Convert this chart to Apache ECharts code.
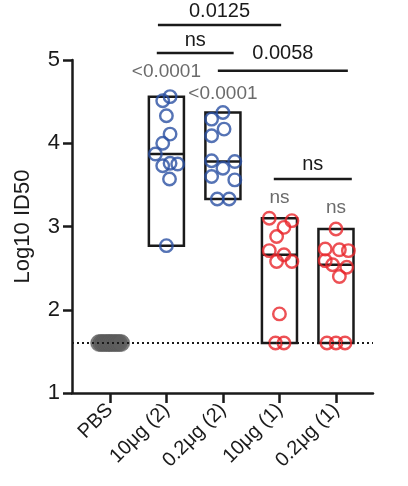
<!DOCTYPE html>
<html>
<head>
<meta charset="utf-8">
<script src="https://cdn.jsdelivr.net/npm/echarts@6/dist/echarts.min.js"></script>
<style>
html,body{margin:0;padding:0;background:#fff}
#grafico{width:408px;height:486px}
</style>
</head>
<body>
<div id="grafico"></div>
<script>
// grupos do eixo x
var grupos = ['PBS', '10μg (2)', '0.2μg (2)', '10μg (1)', '0.2μg (1)'];

// valores (Log10 ID50)
var valoresPBS    = [1.6, 1.6, 1.6, 1.6, 1.6, 1.6, 1.6, 1.6, 1.6, 1.6, 1.6];
var valores10ug2  = [4.56, 4.51, 4.33, 4.11, 4.00, 3.87, 3.76, 3.75, 3.73, 3.57, 2.77];
var valores02ug2  = [4.37, 4.29, 4.17, 4.09, 3.79, 3.78, 3.70, 3.60, 3.56, 3.33, 3.33];
var valores10ug1  = [3.10, 3.07, 2.99, 2.88, 2.71, 2.66, 2.58, 2.58, 1.95, 1.60, 1.60];
var valores02ug1  = [2.97, 2.73, 2.72, 2.71, 2.59, 2.54, 2.51, 2.40, 1.60, 1.60, 1.60];
var limiteDeteccao = 1.6;
var ticksY = [1, 2, 3, 4, 5];

// comparacoes (grupo inicial, grupo final, texto)
var compInicio = [0.85, 0.83, 1.91, 2.90];
var compFim    = [3.03, 2.19, 4.21, 4.28];
var compY      = [5.42, 5.085, 4.87, 3.57];
var compTextoY = [5.58, 5.23, 5.08, 3.75];
var compTexto  = ['0.0125', 'ns', '0.0058', 'ns'];

// p-valores vs PBS
var pGrupo = [1, 2, 3, 4];
var pTexto = ['<0.0001', '<0.0001', 'ns', 'ns'];
var pY     = [4.86, 4.60, 3.35, 3.23];

var todos = [valoresPBS, valores10ug2, valores02ug2, valores10ug1, valores02ug1];

// deslocamento horizontal dos pontos como na figura
var jitter = [
    [-0.19, -0.15, -0.11, -0.07, -0.03, 0, 0.04, 0.08, 0.12, 0.16, 0.2],
    [0.065, -0.065, 0, 0.065, -0.065, -0.195, 0.065, 0.2, -0.065, 0.055, 0],
    [0, -0.2, 0.02, -0.2, -0.2, 0.21, 0, -0.2, 0.21, -0.1, 0.11],
    [-0.18, 0.22, 0.08, -0.05, -0.18, 0.08, -0.05, 0.22, 0, -0.07, 0.08],
    [0, -0.19, 0.06, 0.22, -0.19, -0.06, 0.19, 0.06, -0.16, 0, 0.16]
];

var cores = ['#5e5e5e', '#2a50a3', '#2a50a3', '#e8262b', '#e8262b'];
var fonte = '"Liberation Sans", Arial, sans-serif';
var preto = '#1a1a1a';
var cinza = '#6b6b6b';

function mediana(arr){
    var s = arr.slice().sort(function(a, b){ return a - b; });
    var m = Math.floor(s.length / 2);
    return s.length % 2 ? s[m] : (s[m - 1] + s[m]) / 2;
}

// caixas min-max com mediana
var caixas = [];
for (var g = 1; g < todos.length; g++) {
    caixas.push([g, Math.min.apply(null, todos[g]), Math.max.apply(null, todos[g]), mediana(todos[g])]);
}

var series = [];

series.push({
    type: 'custom',
    z: 2,
    data: caixas,
    renderItem: function(params, api){
        var i = api.value(0);
        var a = api.coord([i - 0.31, api.value(2)]);
        var b = api.coord([i + 0.31, api.value(1)]);
        var m1 = api.coord([i - 0.31, api.value(3)]);
        var m2 = api.coord([i + 0.31, api.value(3)]);
        return {
            type: 'group',
            children: [
                {type: 'rect', shape: {x: a[0], y: a[1], width: b[0] - a[0], height: b[1] - a[1]},
                 style: {fill: 'none', stroke: preto, lineWidth: 2.5}},
                {type: 'line', shape: {x1: m1[0], y1: m1[1], x2: m2[0], y2: m2[1]},
                 style: {stroke: preto, lineWidth: 2.5}}
            ]
        };
    }
});

todos.forEach(function(vals, g){
    var pts = vals.map(function(v, k){ return [g + jitter[g][k], v]; });
    var s = {
        type: 'scatter',
        z: 3,
        symbol: 'circle',
        symbolSize: g === 0 ? 17 : 12.5,
        data: pts,
        itemStyle: g === 0 ?
            {color: cores[g], borderColor: '#575757', borderWidth: 0.6} :
            {color: 'rgba(0,0,0,0)', borderColor: cores[g], borderWidth: 2.4}
    };
    if (g === 0) {
        s.markLine = {
            silent: true,
            symbol: 'none',
            label: {show: false},
            lineStyle: {color: preto, type: [2, 3], width: 2},
            data: [{yAxis: limiteDeteccao}]
        };
    }
    series.push(s);
});

// linhas e textos das comparacoes
series.push({
    type: 'custom',
    z: 4,
    clip: false,
    data: compTexto.map(function(t, i){ return [compInicio[i], compFim[i], compY[i], compTextoY[i], i]; }),
    renderItem: function(params, api){
        var p1 = api.coord([api.value(0), api.value(2)]);
        var p2 = api.coord([api.value(1), api.value(2)]);
        var pt = api.coord([(api.value(0) + api.value(1)) / 2, api.value(3)]);
        return {
            type: 'group',
            children: [
                {type: 'line', shape: {x1: p1[0], y1: p1[1], x2: p2[0], y2: p2[1]},
                 style: {stroke: preto, lineWidth: 2.5}},
                {type: 'text', x: pt[0], y: pt[1],
                 style: {text: compTexto[api.value(4)], fill: preto, font: '20px ' + fonte,
                         textAlign: 'center', textVerticalAlign: 'middle'}}
            ]
        };
    }
});

series.push({
    type: 'custom',
    z: 4,
    clip: false,
    data: pTexto.map(function(t, i){ return [pGrupo[i], pY[i], i]; }),
    renderItem: function(params, api){
        var p = api.coord([api.value(0), api.value(1)]);
        return {
            type: 'text', x: p[0], y: p[1],
            style: {text: pTexto[api.value(2)], fill: cinza, font: '19px ' + fonte,
                    textAlign: 'center', textVerticalAlign: 'middle'}
        };
    }
});

var myChart = echarts.init(document.getElementById('grafico'));
var option = {
    animation: false,
    backgroundColor: '#fff',
    grid: {left: 72, top: 60, right: 35, bottom: 93},
    xAxis: {
        type: 'value',
        min: -0.67,
        max: 4.655,
        splitLine: {show: false},
        axisLine: {show: true, onZero: false, lineStyle: {color: preto, width: 2.5}},
        axisTick: {show: true, customValues: [0, 1, 2, 3, 4], length: 10, lineStyle: {color: preto, width: 2.5}},
        axisLabel: {
            customValues: [0, 1, 2, 3, 4],
            formatter: function(v){ return grupos[Math.round(v)]; },
            rotate: 45,
            margin: 14,
            fontSize: 20,
            color: preto,
            fontFamily: fonte
        }
    },
    yAxis: {
        type: 'value',
        min: ticksY[0],
        max: ticksY[ticksY.length - 1],
        interval: 1,
        name: 'Log10 ID50',
        nameLocation: 'middle',
        nameGap: 38,
        nameTextStyle: {fontSize: 22, color: preto, fontFamily: fonte},
        splitLine: {show: false},
        axisLine: {show: true, onZero: false, lineStyle: {color: preto, width: 2.5}},
        axisTick: {show: true, length: 9, lineStyle: {color: preto, width: 2.5}},
        axisLabel: {fontSize: 22, color: preto, margin: 12, fontFamily: fonte}
    },
    series: series
};
myChart.setOption(option);
</script>
</body>
</html>
